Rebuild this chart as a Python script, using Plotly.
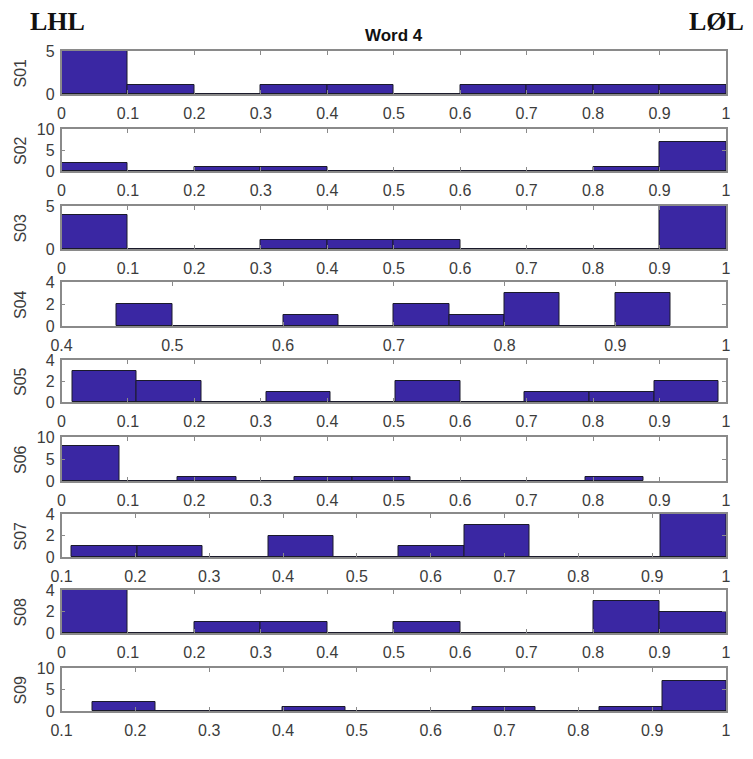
import numpy as np
import plotly.graph_objects as go

# ---- data ----
subjects = ["S01", "S02", "S03", "S04", "S05", "S06", "S07", "S08", "S09"]
bin_lo = [0.0, 0.0, 0.0, 0.45, 0.016, 0.0, 0.114, 0.0, 0.142]
bin_hi = [1.0, 1.0, 1.0, 0.95, 0.989, 0.876, 1.0, 1.0, 1.0]
counts_s01 = [5, 1, 0, 1, 1, 0, 1, 1, 1, 1]
counts_s02 = [2, 0, 1, 1, 0, 0, 0, 0, 1, 7]
counts_s03 = [4, 0, 0, 1, 1, 1, 0, 0, 0, 5]
counts_s04 = [2, 0, 0, 1, 0, 2, 1, 3, 0, 3]
counts_s05 = [3, 2, 0, 1, 0, 2, 0, 1, 1, 2]
counts_s06 = [8, 0, 1, 0, 1, 1, 0, 0, 0, 1]
counts_s07 = [1, 1, 0, 2, 0, 1, 3, 0, 0, 4]
counts_s08 = [4, 0, 1, 1, 0, 1, 0, 0, 3, 2]
counts_s09 = [2, 0, 0, 1, 0, 0, 1, 0, 1, 7]
counts = [counts_s01, counts_s02, counts_s03, counts_s04, counts_s05,
          counts_s06, counts_s07, counts_s08, counts_s09]
x_ranges = [[0, 1], [0, 1], [0, 1], [0.4, 1], [0, 1], [0, 1], [0.1, 1], [0, 1], [0.1, 1]]
y_max = [5, 10, 5, 4, 4, 10, 4, 4, 10]
y_ticks = [[0, 5], [0, 5, 10], [0, 5], [0, 2, 4], [0, 2, 4], [0, 5, 10],
           [0, 2, 4], [0, 2, 4], [0, 5, 10]]
title_text = "Word 4"
left_label = "LHL"
right_label = "LØL"

# ---- layout geometry (pixels of the 753x759 window; page body has 8px margin) ----
OFF = 8
W, H = 753 - 2 * OFF, 759 - 2 * OFF
panel_px = [(51, 94), (129, 171), (206, 249), (282, 326), (360, 402),
            (437, 481), (514, 557), (590, 633), (668, 711)]
x_left, x_right = 61.5, 726


def px(x):
    return (x - OFF) / W


def py(y):
    return 1 - (y - OFF) / H


BAR_COLOR = "#3a27a3"
FRAME = "#8a8a8a"
TXT = "#3c3c3c"
FONT = "Liberation Sans"

fig = go.Figure()
layout = dict(
    width=W, height=H,
    margin=dict(l=0, r=0, t=0, b=0, autoexpand=False),
    paper_bgcolor="white", plot_bgcolor="white",
    showlegend=False,
    font=dict(family=FONT, size=16, color=TXT),
    bargap=0,
)
annotations = []

for i, name in enumerate(subjects):
    edges = np.linspace(bin_lo[i], bin_hi[i], len(counts[i]) + 1)
    centers = (edges[:-1] + edges[1:]) / 2
    widths = np.diff(edges)
    ax = "" if i == 0 else str(i + 1)
    fig.add_trace(go.Bar(
        x=centers, y=counts[i], width=widths,
        marker=dict(color=BAR_COLOR, line=dict(color="#1a1a2a", width=1)),
        xaxis="x" + ax, yaxis="y" + ax, hoverinfo="skip",
    ))
    top, bot = panel_px[i]
    xlo, xhi = x_ranges[i]
    tickvals = np.round(np.arange(xlo, xhi + 1e-9, 0.1), 2)
    ticktext = [("%g" % v) for v in tickvals]
    layout["xaxis" + ax] = dict(
        domain=[px(x_left), px(x_right)], range=[xlo, xhi],
        anchor="y" + ax, showgrid=False, zeroline=False,
        showline=True, linecolor=FRAME, linewidth=1.5, mirror="ticks",
        ticks="inside", ticklen=4, tickcolor=FRAME, tickwidth=1,
        tickvals=tickvals, ticktext=ticktext,
        tickfont=dict(family=FONT, size=16, color=TXT),
        ticklabelstandoff=4, automargin=False,
    )
    layout["yaxis" + ax] = dict(
        domain=[py(bot), py(top)], range=[0, y_max[i]],
        anchor="x" + ax, showgrid=False, zeroline=False,
        showline=True, linecolor=FRAME, linewidth=1.5, mirror="ticks",
        ticks="inside", ticklen=4, tickcolor=FRAME, tickwidth=1,
        tickvals=y_ticks[i],
        tickfont=dict(family=FONT, size=16, color=TXT),
        ticklabelstandoff=2, automargin=False,
    )
    annotations.append(dict(
        text=name, x=px(20), y=py((top + bot) / 2),
        xref="paper", yref="paper", showarrow=False, textangle=-90,
        xanchor="center", yanchor="middle",
        font=dict(family=FONT, size=16, color=TXT),
    ))

annotations.append(dict(
    text="<b>" + title_text + "</b>", x=px(394), y=py(36),
    xref="paper", yref="paper", showarrow=False,
    xanchor="center", yanchor="middle",
    font=dict(family=FONT, size=17, color="#111111"),
))
annotations.append(dict(
    text="<b>" + left_label + "</b>", x=px(57), y=py(22),
    xref="paper", yref="paper", showarrow=False,
    xanchor="center", yanchor="middle", borderpad=0,
    font=dict(family="Liberation Serif", size=26, color="#111111"),
))
annotations.append(dict(
    text="<b>" + right_label + "</b>", x=px(716), y=py(22),
    xref="paper", yref="paper", showarrow=False,
    xanchor="center", yanchor="middle", borderpad=0,
    font=dict(family="Liberation Serif", size=26, color="#111111"),
))
layout["annotations"] = annotations

fig.update_layout(**layout)
fig.write_html("out.html")
